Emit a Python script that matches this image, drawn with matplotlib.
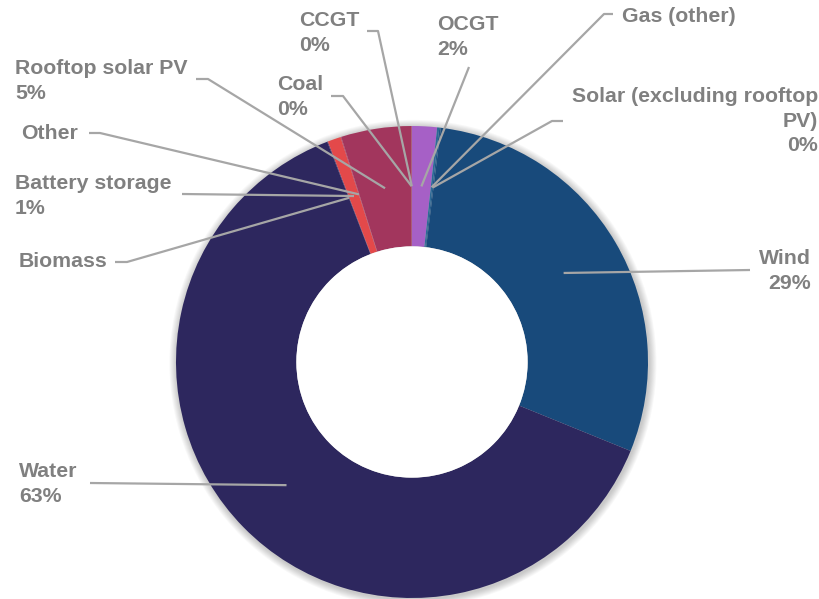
import numpy as np
import matplotlib.pyplot as plt

# generation share by fuel, clockwise from 12 o'clock
fuels = ['OCGT', 'Gas (other)', 'Solar (excluding rooftop\nPV)', 'Wind', 'Water',
         'Biomass', 'Battery storage', 'Other', 'Rooftop solar PV', 'Coal', 'CCGT']
share = [1.7, 0.15, 0.1, 29.2, 63.0, 0.05, 0.9, 0.05, 4.8, 0.02, 0.03]
show_pct = [True, False, True, True, True, False, True, False, True, True, True]
colors = ['#a660c6', '#2c6a96', '#1d5586', '#184a7b', '#2d275e',
          '#3b2a66', '#e3494a', '#b8405f', '#a2365d', '#9a3a5c', '#a0365f']

# label anchors and leader stubs, in pixels of the 819x599 canvas
# (x, y_top, ha, line_start, knee)
label_layout = {
    'OCGT': (437, 15, 'left', (469, 67), (469, 67)),
    'Gas (other)': (622, 7, 'left', (613, 14), (604, 14)),
    'Solar (excluding rooftop\nPV)': (818, 87, 'right', (563, 121), (552, 121)),
    'Wind': (811, 249, 'right', (750, 270), (750, 270)),
    'Water': (19, 462, 'left', (90, 483), (90, 483)),
    'Biomass': (19, 252, 'left', (115, 262), (127, 262)),
    'Battery storage': (15, 174, 'left', (182, 194), (182, 194)),
    'Other': (21, 124, 'left', (89, 133), (100, 133)),
    'Rooftop solar PV': (15, 59, 'left', (196, 79), (208, 79)),
    'Coal': (277, 75, 'left', (331, 96), (343, 96)),
    'CCGT': (299, 11, 'left', (367, 31), (378, 31)),
}

W, H = 819, 599
cx, cy, R = 412, 362, 236
hole = 0.49


def to_data(px, py):
    return (px - cx) / R, (cy - py) / R


fig = plt.figure(figsize=(W / 100, H / 100), dpi=100)
ax = fig.add_axes([0, 0, 1, 1])

# soft shadow behind the ring
for k in range(8):
    ax.add_patch(plt.Circle((0.004, -0.006), 1 + 0.004 * (k + 1), color='#000000',
                            alpha=0.028, lw=0, zorder=0))

wedges, _ = ax.pie(share, colors=colors, startangle=90, counterclock=False,
                   radius=1, wedgeprops=dict(width=1 - hole, linewidth=0))
for w in wedges:
    w.set_zorder(1)
ax.add_patch(plt.Circle((0, 0), hole, color='white', lw=0, zorder=1.5))

txt_color = '#808080'
line_color = '#a6a6a6'
mid_r = (1 + hole) / 2
cum = np.cumsum(share) - np.array(share) / 2
total = sum(share)

for name, val, pct, c in zip(fuels, share, show_pct, cum):
    x, y_top, ha, start, knee = label_layout[name]
    label = f'{name}\n{val:.0f}%' if pct else name
    tx, ty = to_data(x, y_top)
    ax.text(tx, ty, label, ha=ha, va='top', color=txt_color, fontsize=15.3,
            fontweight='bold', family='Liberation Sans', linespacing=1.37, zorder=5)
    ang = np.deg2rad(90 - 360 * c / total)
    ex, ey = mid_r * np.cos(ang), mid_r * np.sin(ang)
    sx, sy = to_data(*start)
    kx, ky = to_data(*knee)
    ax.plot([sx, kx, ex], [sy, ky, ey], color=line_color, lw=1.6,
            solid_capstyle='butt', zorder=4)

ax.set_xlim(-cx / R, (W - cx) / R)
ax.set_ylim(-(H - cy) / R, cy / R)
ax.set_aspect('auto')
ax.axis('off')

fig.savefig('out.png', dpi=100, facecolor='white')
